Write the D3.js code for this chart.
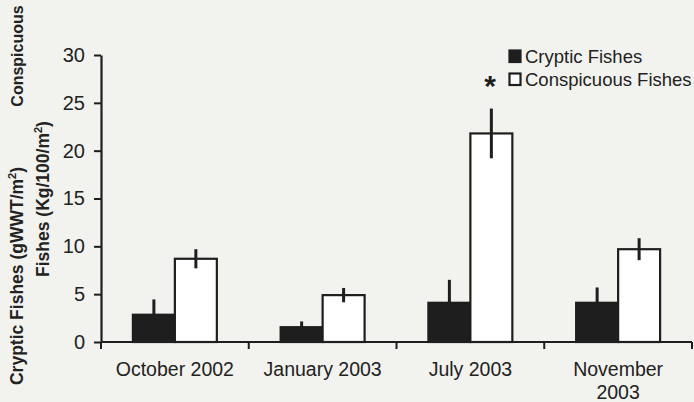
<!DOCTYPE html>
<html>
<head>
<meta charset="utf-8">
<script src="https://cdn.jsdelivr.net/npm/d3@7"></script>
<style>
  html, body { margin: 0; padding: 0; background: #f2f2ee; }
  svg { display: block; font-family: "Liberation Sans", Arial, sans-serif; }
</style>
</head>
<body>
<svg id="chart" width="694" height="402"></svg>
<script>
// Sampling months
const categories = ["October 2002", "January 2003", "July 2003", "November 2003"];
const series = ["Cryptic Fishes", "Conspicuous Fishes"];

// Mean biomass and standard error per month
const crypticValues = [2.85, 1.55, 4.1, 4.1];
const crypticErrors = [1.6, 0.6, 2.4, 1.6];
const conspicuousValues = [8.7, 4.9, 21.8, 9.7];
const conspicuousErrors = [1.0, 0.75, 2.6, 1.15];

const yTicks = [0, 5, 10, 15, 20, 25, 30];

const rows = categories.map((c, i) => ({
  category: c,
  bars: [
    { key: series[0], value: crypticValues[i], err: crypticErrors[i] },
    { key: series[1], value: conspicuousValues[i], err: conspicuousErrors[i] }
  ]
}));

const svg = d3.select("#chart");
const ink = "#1e1e1e";

const x0 = d3.scaleBand().domain(categories).range([101, 692]).padding(0);
const x1 = d3.scaleBand().domain(series).range([0, x0.bandwidth()])
  .paddingInner(0).paddingOuter(0.76);
const y = d3.scaleLinear().domain([0, 30]).range([342, 55]);
const fill = d3.scaleOrdinal().domain(series).range([ink, "#ffffff"]);

// Bars
const groups = svg.append("g").selectAll("g").data(rows).join("g")
  .attr("transform", d => `translate(${x0(d.category)},0)`);

groups.selectAll("rect").data(d => d.bars).join("rect")
  .attr("x", d => x1(d.key))
  .attr("y", d => y(d.value))
  .attr("width", x1.bandwidth())
  .attr("height", d => y(0) - y(d.value))
  .attr("fill", d => fill(d.key))
  .attr("stroke", ink)
  .attr("stroke-width", 2.2);

// Error bars
groups.selectAll("line.err").data(d => d.bars).join("line")
  .attr("class", "err")
  .attr("x1", d => x1(d.key) + x1.bandwidth() / 2)
  .attr("x2", d => x1(d.key) + x1.bandwidth() / 2)
  .attr("y1", d => y(d.value + d.err))
  .attr("y2", d => y(d.value - d.err))
  .attr("stroke", ink)
  .attr("stroke-width", 3);

// Y axis
const yAxis = svg.append("g")
  .attr("transform", "translate(101,0)")
  .call(d3.axisLeft(y).tickValues(yTicks).tickSize(7).tickPadding(9).tickSizeOuter(0));
yAxis.select(".domain").attr("stroke", ink).attr("stroke-width", 2.2);
yAxis.selectAll(".tick line").attr("stroke", ink).attr("stroke-width", 2);
yAxis.selectAll(".tick text")
  .attr("font-size", 20).attr("fill", "#222")
  .attr("font-family", "Liberation Sans, Arial, sans-serif");

// X axis with boundary ticks between months
const xAxis = svg.append("g").attr("transform", "translate(0,342)");
xAxis.append("line")
  .attr("x1", x0.range()[0]).attr("x2", x0.range()[1])
  .attr("stroke", ink).attr("stroke-width", 2.2);
const bounds = categories.map(c => x0(c)).concat([x0.range()[1]]);
xAxis.selectAll("line.tk").data(bounds).join("line")
  .attr("class", "tk")
  .attr("x1", d => d).attr("x2", d => d)
  .attr("y1", 0).attr("y2", 7)
  .attr("stroke", ink).attr("stroke-width", 2);

const labels = xAxis.selectAll("text").data(categories).join("text")
  .attr("x", d => x0(d) + x0.bandwidth() / 2)
  .attr("y", 34)
  .attr("text-anchor", "middle")
  .attr("font-size", 19.5)
  .attr("fill", "#222");
labels.each(function(d) {
  const t = d3.select(this);
  const lines = d === "November 2003" ? ["November", "2003"] : [d];
  lines.forEach((ln, i) => {
    t.append("tspan")
      .attr("x", x0(d) + x0.bandwidth() / 2)
      .attr("dy", i === 0 ? 0 : 22.5)
      .text(ln);
  });
});

// Y axis titles
function vtext(txt, cx, cy, size, sup) {
  const t = svg.append("text")
    .attr("transform", `translate(${cx},${cy}) rotate(-90)`)
    .attr("text-anchor", "middle")
    .attr("font-size", size)
    .attr("font-weight", "bold")
    .attr("fill", "#222");
  if (sup) {
    t.append("tspan").text(txt);
    t.append("tspan").attr("font-size", 11).attr("dy", -7).text("2");
    t.append("tspan").attr("dy", 7).text(")");
  } else {
    t.text(txt);
  }
  return t;
}
vtext("Cryptic Fishes (gWWT/m", 23, 276, 17.5, true);
vtext("Conspicuous", 23, 56, 16, false);
vtext("Fishes (Kg/100/m", 49, 199, 17.5, true);

// Legend
const legend = svg.append("g");
series.forEach((s, i) => {
  const yy = 63 + i * 23;
  legend.append("rect")
    .attr("x", 509.5).attr("y", yy - 12.5)
    .attr("width", 11).attr("height", 11.5)
    .attr("fill", fill(s))
    .attr("stroke", ink).attr("stroke-width", 2.2);
  legend.append("text")
    .attr("x", 525).attr("y", yy)
    .attr("font-size", 18.5)
    .attr("fill", "#222")
    .text(s);
});
legend.append("text")
  .attr("x", 490).attr("y", 96)
  .attr("text-anchor", "middle")
  .attr("font-size", 30)
  .attr("font-weight", "bold")
  .attr("fill", ink)
  .text("*");
</script>
</body>
</html>
